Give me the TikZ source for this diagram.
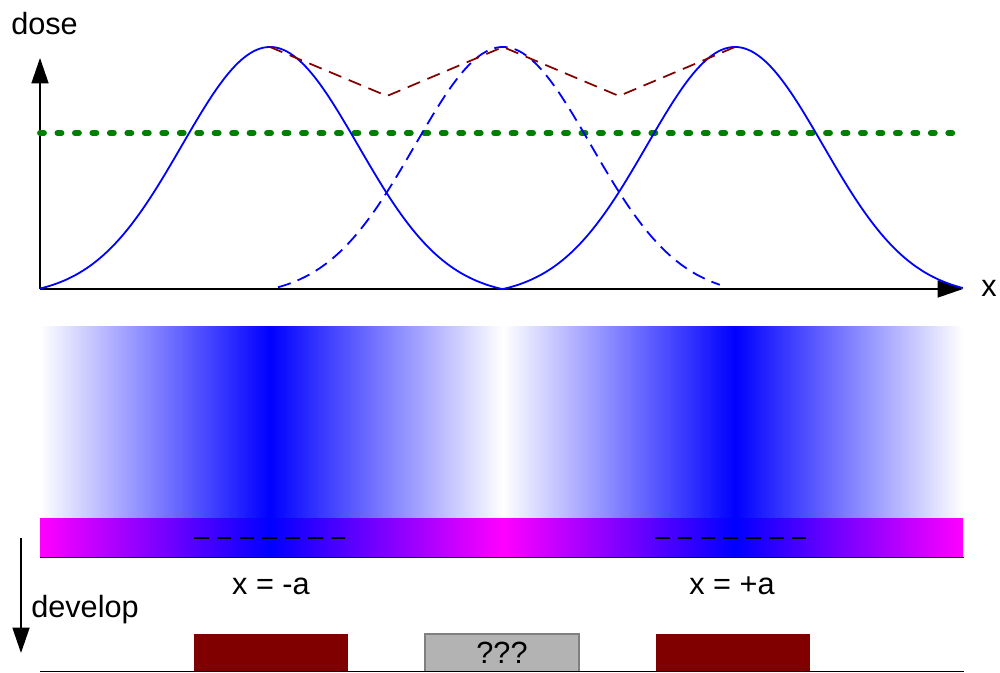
\documentclass[tikz,border=0pt]{standalone}
\usepackage{fontspec}
\setmainfont{Liberation Sans}
\usetikzlibrary{arrows.meta}
\definecolor{darkred}{HTML}{800000}
\definecolor{dgreen}{HTML}{008000}
\definecolor{grayfill}{HTML}{B3B3B3}
\definecolor{grayline}{HTML}{808080}
\definecolor{pureblue}{HTML}{0000FF}
\pgfdeclarehorizontalshading{doseshade}{100bp}{%
color(0bp)=(white); color(25bp)=(white);
color(37.46bp)=(pureblue);
color(50.08bp)=(white);
color(62.65bp)=(pureblue);
color(75bp)=(white); color(100bp)=(white)}
\pgfdeclarehorizontalshading{resistshade}{100bp}{%
color(0bp)=(magenta); color(25bp)=(magenta);
color(37.46bp)=(pureblue);
color(50.08bp)=(magenta);
color(62.65bp)=(pureblue);
color(75bp)=(magenta); color(100bp)=(magenta)}
\begin{document}
\begin{tikzpicture}[x=0.75pt,y=-0.75pt,
  lbl/.style={inner sep=0pt, font=\fontsize{23}{27}\selectfont},
  axisline/.style={black, line width=1.1pt, -{Triangle[length=19pt,width=12.75pt]}},
  dosecurve/.style={pureblue, line width=1.35pt, smooth},
  dosedashed/.style={dosecurve, dash pattern=on 10pt off 5.5pt},
  envelope/.style={darkred, line width=1.3pt, dash pattern=on 10pt off 6pt},
  threshold/.style={dgreen, line width=4.4pt, line cap=round, dash pattern=on 3pt off 10.1pt},
  chargedash/.style={black, line width=1.2pt, dash pattern=on 10.9pt off 6.2pt},
  baseline/.style={black, line width=1.1pt},
  resistblock/.style={fill=darkred},
  unknownblock/.style={fill=grayfill, draw=grayline, line width=1.1pt}]
\useasboundingbox (0,0) rectangle (1000,673);
% ---------- dose plot ----------
\coordinate (O) at (40,289);
\coordinate (ytop) at (40,58);
\coordinate (xend) at (963,289);
\draw[axisline] (O) -- (ytop);
\draw[axisline] (O) -- (xend);
\node[lbl, anchor=base west] (dose) at (11,35) {dose};
\node[lbl, anchor=base west] (xlab) at (981,297) {x};
\draw[threshold] (40,133) -- (965,133);
\draw[dosecurve] plot[domain=-2.3:2.33, samples=140] ({270+100*\x}, {289-242*((exp(-\x*\x/1.5488)-0.031)/0.969)});
\draw[dosecurve] plot[domain=-2.32:2.28, samples=140] ({735+100*\x}, {289-242*((exp(-\x*\x/1.5488)-0.031)/0.969)});
\draw[dosedashed] plot[domain=-2.25:2.17, samples=140] ({503+100*\x}, {289-242*((exp(-\x*\x/1.5488)-0.031)/0.969)});
\coordinate (p1) at (270,47);
\coordinate (v1) at (387,96);
\coordinate (p2) at (503,47);
\coordinate (v2) at (619,96);
\coordinate (p3) at (735,47);
\draw[envelope] (p1) -- (v1) -- (p2) -- (v2) -- (p3);
% ---------- exposure ----------
\path[shading=doseshade] (40,327) rectangle (963,519);
\path[shading=resistshade] (40,519) rectangle (963,557);
\draw[baseline] (40,557.5) -- (964,557.5);
\coordinate (c1a) at (194,538);
\coordinate (c1b) at (347,538);
\coordinate (c2a) at (655,538);
\coordinate (c2b) at (808,538);
\draw[chargedash] (c1a) -- (c1b);
\draw[chargedash] (c2a) -- (c2b);
\node[lbl, anchor=base] (xma) at (271,594) {x = -a};
\node[lbl, anchor=base] (xpa) at (732,594) {x = +a};
% ---------- develop ----------
\coordinate (d1) at (21,538);
\coordinate (d2) at (21,653);
\draw[axisline] (d1) -- (d2);
\node[lbl, anchor=base west] (dev) at (31,617) {develop};
\fill[resistblock] (194,634) rectangle (348,671.5);
\fill[resistblock] (656,634) rectangle (810,671.5);
\draw[unknownblock] (425,634) rectangle (579,671.5);
\node[lbl, anchor=base] (q) at (502,663) {???};
\draw[baseline] (40,671.5) -- (964,671.5);
\end{tikzpicture}
\end{document}
